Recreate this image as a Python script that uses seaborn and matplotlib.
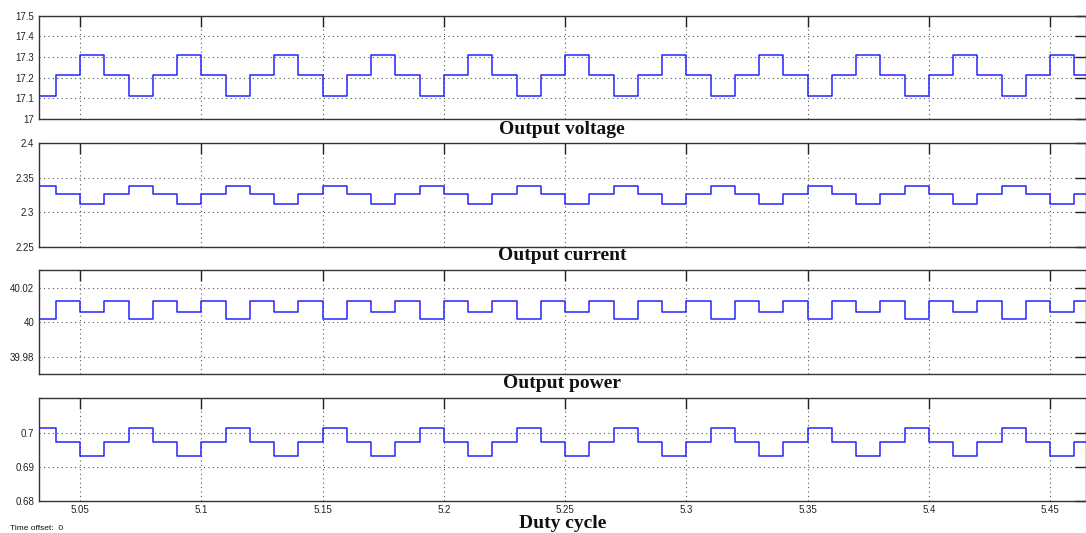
import numpy as np
import pandas as pd
import matplotlib
matplotlib.use("Agg")
import matplotlib.pyplot as plt
from matplotlib.ticker import FuncFormatter
import seaborn as sns

# Sample instants (s): a new value is held every 10 ms
step_times = np.round(5.03 + 0.01 * np.arange(45), 2)

# Held values for each 10 ms interval
voltage = [17.11, 17.21, 17.31, 17.21, 17.11, 17.21, 17.31, 17.21, 17.11, 17.21, 17.31,
           17.21, 17.11, 17.21, 17.31, 17.21, 17.11, 17.21, 17.31, 17.21, 17.11, 17.21,
           17.31, 17.21, 17.11, 17.21, 17.31, 17.21, 17.11, 17.21, 17.31, 17.21, 17.11,
           17.21, 17.31, 17.21, 17.11, 17.21, 17.31, 17.21, 17.11, 17.21, 17.31, 17.21]
current = [2.338, 2.326, 2.312, 2.326, 2.338, 2.326, 2.312, 2.326, 2.338, 2.326, 2.312,
           2.326, 2.338, 2.326, 2.312, 2.326, 2.338, 2.326, 2.312, 2.326, 2.338, 2.326,
           2.312, 2.326, 2.338, 2.326, 2.312, 2.326, 2.338, 2.326, 2.312, 2.326, 2.338,
           2.326, 2.312, 2.326, 2.338, 2.326, 2.312, 2.326, 2.338, 2.326, 2.312, 2.326]
power = [40.002, 40.012, 40.006, 40.012, 40.002, 40.012, 40.006, 40.012, 40.002, 40.012,
         40.006, 40.012, 40.002, 40.012, 40.006, 40.012, 40.002, 40.012, 40.006, 40.012,
         40.002, 40.012, 40.006, 40.012, 40.002, 40.012, 40.006, 40.012, 40.002, 40.012,
         40.006, 40.012, 40.002, 40.012, 40.006, 40.012, 40.002, 40.012, 40.006, 40.012,
         40.002, 40.012, 40.006, 40.012]
duty = [0.7014, 0.6972, 0.6932, 0.6972, 0.7014, 0.6972, 0.6932, 0.6972, 0.7014, 0.6972,
        0.6932, 0.6972, 0.7014, 0.6972, 0.6932, 0.6972, 0.7014, 0.6972, 0.6932, 0.6972,
        0.7014, 0.6972, 0.6932, 0.6972, 0.7014, 0.6972, 0.6932, 0.6972, 0.7014, 0.6972,
        0.6932, 0.6972, 0.7014, 0.6972, 0.6932, 0.6972, 0.7014, 0.6972, 0.6932, 0.6972,
        0.7014, 0.6972, 0.6932, 0.6972]

titles = ["Output voltage", "Output current", "Output power", "Duty cycle"]
y_ticks = [[17, 17.1, 17.2, 17.3, 17.4, 17.5],
           [2.25, 2.3, 2.35, 2.4],
           [39.98, 40, 40.02],
           [0.68, 0.69, 0.7]]
y_limits = [(17, 17.5), (2.25, 2.4), (39.97, 40.03), (0.68, 0.71)]
x_ticks = [5.05, 5.1, 5.15, 5.2, 5.25, 5.3, 5.35, 5.4, 5.45]
x_limits = (5.0328, 5.4648)

sns.set_style("white")
plt.rcParams["font.family"] = ["Liberation Sans", "DejaVu Sans"]

W, H = 1086, 533
fig = plt.figure(figsize=(W / 100, H / 100), dpi=100)

# panel boxes in pixels
left_px, right_px = 38.5, 1086
panel_tops = [15.7, 143.3, 270.3, 398.3]
panel_bottoms = [118.7, 246.7, 374.0, 501.0]
title_offsets = [11, 9, 10, 22]

fmt = FuncFormatter(lambda v, _: "%g" % round(v, 4))
series = [voltage, current, power, duty]

for i, vals in enumerate(series):
    top, bot = panel_tops[i], panel_bottoms[i]
    ax = fig.add_axes([left_px / W, 1 - bot / H, (right_px - left_px) / W, (bot - top) / H])
    df = pd.DataFrame({"t": step_times, "v": list(vals) + [vals[-1]]})
    sns.lineplot(data=df, x="t", y="v", ax=ax, drawstyle="steps-post",
                 color="#2424ff", linewidth=1.1)
    ax.set_xlim(*x_limits)
    ax.set_ylim(*y_limits[i])
    ax.set_yticks(y_ticks[i])
    ax.set_xticks(x_ticks)
    ax.yaxis.set_major_formatter(fmt)
    ax.xaxis.set_major_formatter(fmt)
    ax.set_xlabel("")
    ax.set_ylabel("")
    ax.grid(True, linestyle=(0, (1, 3)), color="#555555", linewidth=0.8)
    ax.tick_params(direction="in", length=8, width=1, colors="#222222",
                   top=True, right=True, labelsize=7, pad=3)
    if i < 3:
        ax.tick_params(labelbottom=False)
    for sp in ax.spines.values():
        sp.set_color("#333333")
        sp.set_linewidth(1)
    ax.annotate(titles[i], xy=(0.5, 0), xycoords="axes fraction",
                xytext=(0, -title_offsets[i]), textcoords="offset pixels",
                ha="center", va="center", fontsize=14, fontweight="bold",
                family=["Liberation Serif", "DejaVu Serif"], color="#111111",
                annotation_clip=False)

fig.text(10 / W, 1 - 528 / H, "Time offset:  0", fontsize=6, ha="left", va="center",
         color="#111111")

fig.savefig("out.png", dpi=100)
